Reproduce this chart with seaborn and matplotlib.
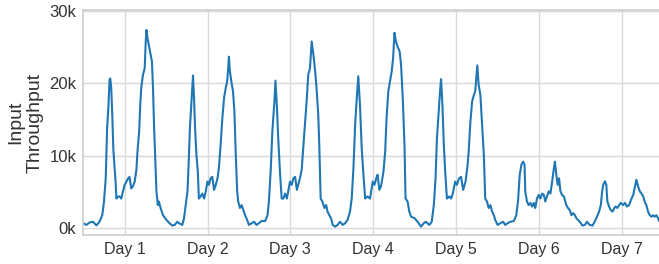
import matplotlib
matplotlib.use("Agg")
import matplotlib.pyplot as plt
import seaborn as sns
import pandas as pd

# time in hours since start, throughput in thousands
hours = [
    0.0, 0.9, 1.8, 2.8, 3.8, 4.7, 5.5, 6.0, 6.5, 6.9, 7.3, 7.6, 7.8, 8.1, 8.4, 8.7, 9.0, 9.3, 9.6,
    10.1, 10.5, 11.0, 11.5, 12.0, 12.5, 13.0, 13.4, 13.9, 14.4, 14.9, 15.4, 15.7, 16.2, 16.5, 16.8,
    17.3, 17.8, 18.1, 18.3, 18.6, 19.0, 19.5, 19.9, 20.2, 20.5, 20.9, 21.2, 21.6, 21.9, 22.4, 23.1,
    24.1, 25.0, 25.8, 26.5, 27.2,
    27.7, 28.7, 29.2, 29.7, 30.2, 30.6, 30.9, 31.3, 31.8, 32.1, 32.4, 32.8, 33.2, 33.5, 34.0, 34.5,
    35.0, 35.5, 36.0, 36.4, 36.9, 37.4, 37.9, 38.4, 38.9, 39.3, 39.8, 40.3, 40.8, 41.3, 41.7, 42.0,
    42.2, 42.5, 42.9, 43.4, 43.8, 44.2, 44.6, 44.9, 45.4, 45.9, 46.4, 46.9, 47.5, 48.0, 48.8, 49.5,
    50.2, 50.9, 51.7, 52.7, 53.4, 53.8, 54.3, 54.8, 55.4,
    55.7, 56.1, 56.5, 57.0, 57.5, 58.0, 58.5, 59.0, 59.4, 59.9, 60.4, 60.9, 61.4, 61.9, 62.3, 62.8,
    63.3, 63.8, 64.3, 64.8, 65.2, 65.7, 66.2, 66.7, 67.2, 67.6, 68.1, 68.4, 68.8, 69.3, 69.9, 70.4,
    70.8, 71.3, 71.8, 72.3, 73.0, 73.7, 74.4, 75.2, 75.9, 76.6, 77.3, 77.8, 78.3, 78.8, 79.2, 79.7,
    80.2, 80.7, 81.2, 81.7, 82.4, 83.1,
    83.9, 84.4, 84.9, 85.3, 85.8, 86.3, 87.0, 87.5, 87.9, 88.4, 88.9, 89.4, 89.8, 90.2, 90.6, 91.1,
    91.7, 92.1, 92.6, 93.1, 93.4, 94.0, 94.5, 95.0, 96.0, 96.9, 97.9, 98.7, 99.3, 100.3, 101.0,
    101.6, 102.1, 102.5, 103.0, 103.4, 103.7, 104.1, 104.5, 104.9, 105.4, 106.1, 106.6, 107.1,
    107.8, 108.3, 108.9, 109.5, 110.1, 110.8, 111.4,
    111.7, 112.2, 112.7, 113.2, 113.6, 113.9, 114.2, 114.6, 115.1, 115.6, 116.1, 116.5, 117.0,
    117.5, 118.0, 118.5, 119.0, 119.4, 120.1, 120.9, 121.7, 122.3, 123.0, 123.8, 124.8, 125.5,
    126.0, 126.5, 127.0, 127.5, 127.9, 128.1, 128.6, 129.1, 129.6, 130.1, 130.6, 131.0, 131.5,
    132.0, 132.5, 133.0, 133.5, 133.9, 134.4, 134.9, 135.4, 135.9, 136.4, 136.7, 137.1, 137.5,
    137.9, 138.3, 138.8, 139.3,
    140.0, 140.5, 141.0, 141.5, 142.0, 142.5, 142.9, 143.4, 143.9, 144.7, 145.4, 146.0, 146.8,
    147.6, 148.2, 148.9, 149.5, 150.0, 150.4, 150.7, 151.2, 151.6, 151.9, 152.4, 152.9, 153.4,
    153.9, 154.3, 154.8, 155.3, 155.8, 156.5, 157.0, 157.6, 158.2, 158.9, 159.4, 159.9, 160.3,
    160.8, 161.3, 161.8, 162.3, 162.7, 163.2, 163.7, 164.2, 164.7, 165.2, 165.6, 166.1, 166.6, 166.9,
]
throughput_k = [
    0.7, 0.46, 0.8, 0.9, 0.4, 0.9, 1.8, 3.7, 6.9, 13.8, 17.0, 20.5, 20.7, 19.4, 15.7, 11.0, 8.8, 6.9, 4.1,
    4.4, 4.4, 4.1, 5.1, 6.0, 6.45, 6.9, 7.1, 5.5, 5.8, 6.45, 8.1, 10.6, 13.4, 17.0, 19.4,
    21.2, 22.1, 25.8, 27.4, 26.3, 25.3, 24.0, 23.0, 19.4, 14.3, 8.8, 5.1, 3.2, 3.7, 2.8, 1.8,
    1.15, 0.7, 0.37, 0.46, 0.9,
    0.7, 0.46, 1.4, 3.2, 5.1, 9.7, 13.8, 17.0, 21.1, 18.0, 13.8, 10.1, 7.8, 4.1, 4.4, 4.8,
    4.1, 5.1, 6.45, 6.0, 6.9, 7.1, 5.3, 6.0, 6.9, 8.3, 11.5, 15.2, 18.0, 19.4, 20.3, 22.1,
    23.7, 21.7, 20.3, 18.9, 16.1, 10.1, 5.1, 3.7, 2.8, 3.2, 2.5, 1.8, 1.15, 0.46, 0.7, 0.9,
    0.46, 0.7, 1.0, 1.0, 1.8, 3.7, 7.8, 13.4, 17.5,
    20.4, 17.0, 12.4, 7.8, 4.1, 4.1, 4.8, 4.1, 5.1, 6.45, 6.0, 6.9, 7.1, 5.3, 6.0, 6.9,
    8.1, 11.5, 14.7, 18.0, 21.2, 22.1, 25.8, 24.0, 21.7, 19.4, 15.7, 11.5, 4.1, 3.7, 2.8, 3.2,
    2.3, 1.8, 1.4, 0.46, 0.23, 0.46, 0.9, 0.46, 0.7, 1.15, 2.3, 4.1, 8.3, 14.3, 17.5, 21.0,
    17.0, 11.0, 7.4, 4.1, 4.4, 4.1,
    6.45, 6.0, 6.9, 7.4, 5.3, 5.8, 7.8, 10.6, 15.2, 18.9, 20.3, 21.7, 23.5, 27.0, 25.8, 25.1,
    24.4, 22.6, 18.0, 11.5, 4.1, 3.7, 2.3, 1.6, 1.4, 0.9, 0.23, 0.7, 0.9, 0.46, 0.9,
    3.2, 6.9, 12.4, 16.1, 18.9, 20.6, 17.0, 11.5, 7.8, 4.1, 4.4, 4.1, 4.8,
    6.45, 6.0, 6.9, 7.1, 5.3, 6.45, 8.8,
    10.6, 14.7, 17.5, 18.4, 18.9, 20.7, 22.5, 19.8, 18.4, 14.3, 10.1, 4.1, 3.7,
    2.8, 3.2, 2.3, 1.8, 1.15, 0.46, 0.7, 0.9, 0.46, 0.7, 0.9, 1.0, 1.8,
    3.7, 7.4, 8.8, 9.2, 8.8, 5.1, 3.7, 3.2, 3.5, 3.0, 3.5, 2.8, 4.1,
    4.6, 4.1, 4.8, 4.6, 3.7, 4.4, 5.1, 4.8, 6.45, 8.3, 9.2, 7.4, 6.0,
    6.9, 5.1, 4.6, 4.4,
    3.2, 2.8, 2.5, 1.8, 2.1, 1.8, 1.4, 1.15, 0.9, 0.37, 0.46, 0.9, 0.46,
    0.37, 0.9, 1.6, 2.3, 3.2, 5.1, 6.0, 6.5, 6.0, 3.7, 3.0, 2.5, 2.3,
    2.8, 3.0, 2.8, 3.2, 3.5, 3.2, 3.5, 3.0, 3.2, 4.1, 4.6, 5.8, 6.7,
    5.8, 5.1, 4.8, 4.4, 3.7, 3.2, 2.3, 1.8, 1.6, 1.8, 1.6, 1.8, 1.4, 1.0,
]
day_ticks = [12, 36, 60, 84, 108, 132, 156]
day_labels = ["Day 1", "Day 2", "Day 3", "Day 4", "Day 5", "Day 6", "Day 7"]
y_ticks = [0, 10, 20, 30]
y_labels = ["0k", "10k", "20k", "30k"]

sns.set_theme(style="whitegrid")
plt.rcParams["font.family"] = ["Liberation Sans", "DejaVu Sans"]

df = pd.DataFrame({"hours": hours, "throughput": throughput_k})

fig = plt.figure(figsize=(6.59, 2.64), dpi=100)
ax = fig.add_axes([83.3 / 659, 29 / 264, 579.6 / 659, 225 / 264])
sns.lineplot(data=df, x="hours", y="throughput", ax=ax, color="#1f77b4", linewidth=1.5)

ax.set_xlim(0, 168)
ax.set_ylim(-0.93, 30.15)
ax.set_xticks(day_ticks)
ax.set_xticklabels(day_labels, fontsize=11.5, color="#333333")
ax.set_yticks(y_ticks)
ax.set_yticklabels(y_labels, fontsize=12, color="#333333")
ax.set_xlabel("")
ax.set_ylabel("Input\nThroughput", fontsize=14, color="#333333", linespacing=1.2, labelpad=4)
ax.tick_params(axis="both", length=0, pad=5)
for s in ax.spines.values():
    s.set_color("#d0d0d0")
ax.grid(color="#d9d9d9", linewidth=1.0)

fig.savefig("out.png", dpi=100)
